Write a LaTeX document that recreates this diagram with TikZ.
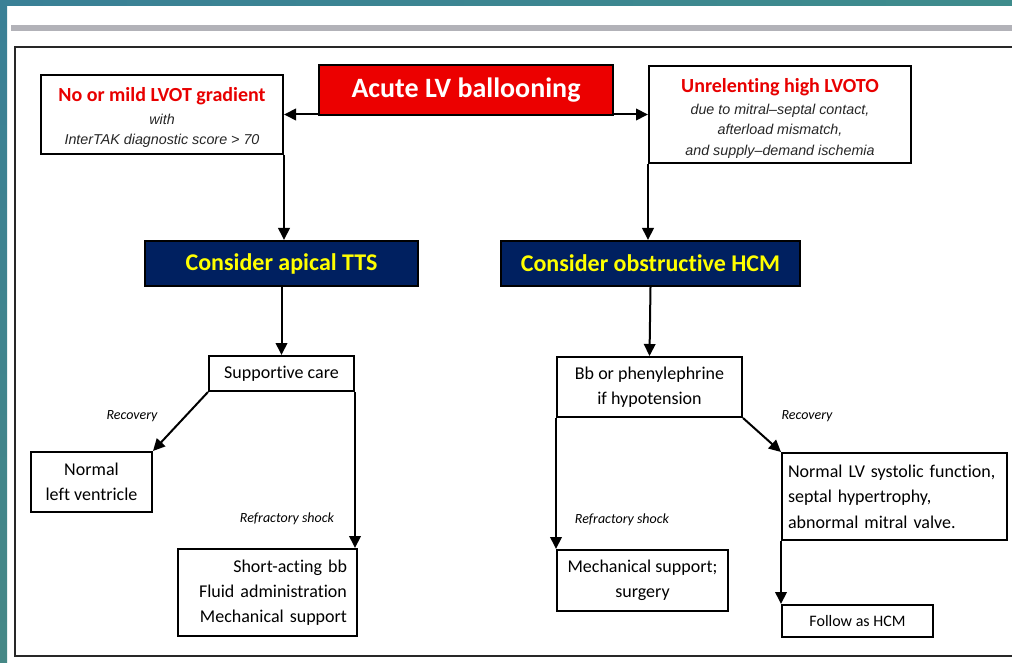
\documentclass[tikz,border=0pt]{standalone}
\usepackage{fontspec}
\setmainfont{Carlito}[Ligatures={NoCommon}]
\newfontfamily\arialf{Liberation Sans}
\usetikzlibrary{arrows.meta}
\definecolor{boxred}{RGB}{236,0,0}
\definecolor{headred}{RGB}{232,0,0}
\definecolor{navy}{RGB}{0,32,96}
\definecolor{ylw}{RGB}{255,255,0}
\definecolor{tealA}{RGB}{58,128,150}
\definecolor{tealD}{RGB}{70,136,134}
\definecolor{blueB}{RGB}{50,145,200}
\definecolor{tealC}{RGB}{62,140,140}
\definecolor{barg}{RGB}{178,178,184}
\definecolor{framec}{RGB}{40,40,40}
\begin{document}
\begin{tikzpicture}[x=1pt,y=-1pt,
  box/.style={draw=black, line width=2pt, fill=white, inner sep=0pt},
  sz/.style 2 args={minimum width=#1, minimum height=#2},
  body/.style={font=\fontsize{18}{25}\selectfont},
  navybox/.style={box, fill=navy, text=ylw, font=\fontsize{24}{28}\selectfont\bfseries},
  toptxt/.style={inner sep=0pt, align=center, font=\fontsize{14.3}{20.5}\selectfont\arialf\itshape, text=black!85},
  lbl/.style={inner sep=0pt, font=\fontsize{14}{16}\selectfont\itshape},
  arr/.style={line width=2pt, -{Triangle[length=12pt,width=11.5pt]}},
  ln/.style={line width=2pt}]
\useasboundingbox (0,0) rectangle (1012,663);
% background
\fill[white] (0,0) rectangle (1012,663);
\shade[top color=tealA, bottom color=tealD] (0,0) rectangle (7,663);
\shade[left color=tealA, middle color=blueB, right color=tealC] (0,0) rectangle (1012,6);
\fill[barg] (11,25) rectangle (1012,31);
\draw[framec, line width=2pt] (1013,47) -- (15,47) -- (15,656) -- (1013,656);
% nodes
\node[box, sz={294}{50}, fill=boxred, text=white, font=\fontsize{28}{32}\selectfont\bfseries] (acute) at (466,90) {Acute LV ballooning};
\node[box, sz={242}{79}] (nomild) at (162,114.5) {};
\node[toptxt] (nomildtxt) at ([yshift=-3pt]nomild.center)
  {\textcolor{headred}{\rmfamily\upshape\bfseries\fontsize{20}{20.5}\selectfont No or mild LVOT gradient}\\[2pt] with\\ InterTAK diagnostic score > 70};
\node[box, sz={262}{97}] (unrel) at (780,114.5) {};
\node[toptxt] (unreltxt) at ([yshift=-3.5pt]unrel.center)
  {\textcolor{headred}{\rmfamily\upshape\bfseries\fontsize{20}{20.5}\selectfont Unrelenting high LVOTO}\\[1.5pt] due to mitral–septal contact,\\ afterload mismatch,\\ and supply–demand ischemia};
\node[navybox, sz={273}{45}] (tts) at (281.5,263.5) {Consider apical TTS};
\node[navybox, sz={299}{45}] (hcm) at (650.5,263.5) {Consider obstructive HCM};
\node[box, body, sz={145}{35}] (supp) at (281.5,373.5) {Supportive care};
\node[box, body, sz={121}{60}, align=center] (normal) at (91.5,482) {Normal\\ left ventricle};
\node[box, body, sz={179}{87}, align=right, text width=159pt, inner xsep=10pt] (short) at (267.5,592.5) {Short-acting bb\\ Fluid administration\\ Mechanical support};
\node[box, body, sz={185}{60}, align=center] (bb) at (649.5,387) {Bb or phenylephrine\\ if hypotension};
\node[box, body, sz={171}{61}, align=center] (mech) at (642.5,580.5) {Mechanical support;\\ surgery};
\node[box, font=\fontsize{18}{25.5}\selectfont, sz={225}{87}, align=left, text width=213pt, inner xsep=6pt] (nlv) at (894.5,496.5) {Normal LV systolic function,\\ septal hypertrophy,\\ abnormal mitral valve.};
\node[box, font=\fontsize{16}{20}\selectfont, sz={151}{32}] (follow) at (857.5,621) {Follow as HCM};
% labels
\node[lbl] (rec1) at (132,416) {Recovery};
\node[lbl] (rec2) at (807,416) {Recovery};
\node[lbl] (ref1) at (287,519) {Refractory shock};
\node[lbl] (ref2) at (622,520) {Refractory shock};
% connectors
\draw[arr] (acute.west |- nomild.east) -- (nomild.east);
\draw[arr] (acute.east |- unrel.west) -- (unrel.west);
\draw[arr] (nomild.south east) -- (nomild.south east |- tts.north);
\draw[arr] (unrel.south west) -- (unrel.south west |- hcm.north);
\draw[arr] (tts.south) -- (supp.north);
\draw[arr] (hcm.south) -- (bb.north);
\draw[arr] (supp.south west) -- (normal.north east);
\draw[arr] (supp.south east) -- (supp.south east |- short.north);
\draw[arr] (bb.south west) -- (bb.south west |- mech.north);
\draw[arr] (bb.south east) -- (nlv.north west);
\draw[arr] (nlv.south west) -- (nlv.south west |- follow.north);
\end{tikzpicture}
\end{document}
